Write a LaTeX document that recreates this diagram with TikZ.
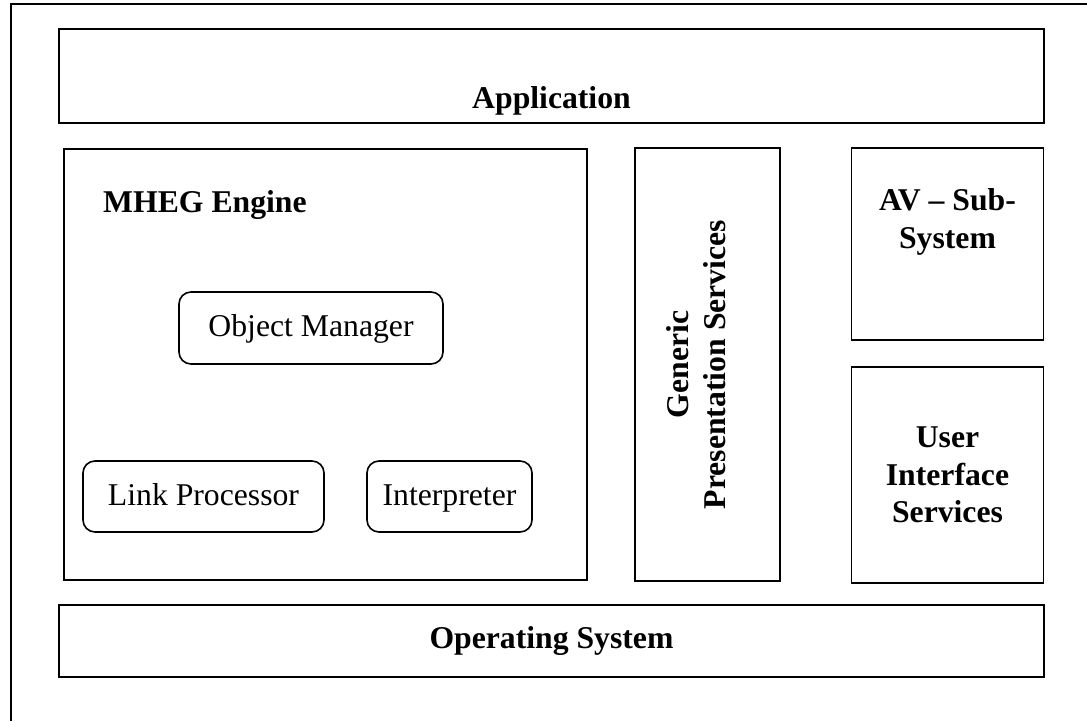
\documentclass[tikz,border=0pt]{standalone}
\usepackage{fontspec}
\setmainfont{Liberation Serif}
\newcommand\bigfont{\fontsize{31.7}{37.5}\selectfont}
\begin{document}
\begin{tikzpicture}[x=1pt,y=-1pt,
  box/.style={draw, line width=1.6pt, inner sep=0pt, outer sep=0pt},
  rbox/.style={box, rounded corners=12pt},
  lbl/.style={inner sep=0pt, font=\bigfont\bfseries, align=center},
  txt/.style={inner sep=0pt, font=\bigfont, align=center, text height=24pt, text depth=7pt}]
\useasboundingbox (0,0) rectangle (1087,721);
% outer frame (left and top only visible)
\draw[line width=1.3pt] (11,721) -- (11,4) -- (1087,4);
% boxes
\node[box, minimum width=985pt, minimum height=94pt] (app) at (551.5,76) {};
\node[lbl, anchor=base] (applbl) at (551.5,108) {Application};
\node[box, minimum width=523pt, minimum height=431pt] (engine) at (325.5,364.5) {};
\node[lbl, anchor=base west] (englbl) at (103,212) {MHEG Engine};
\node[rbox, minimum width=264pt, minimum height=72pt, txt] (om) at (311,328) {Object Manager};
\node[rbox, minimum width=241pt, minimum height=71pt, txt] (lp) at (203.5,496.5) {Link Processor};
\node[rbox, minimum width=165pt, minimum height=71pt, txt] (interp) at (449.5,496.5) {Interpreter};
\node[box, minimum width=145pt, minimum height=433pt] (gps) at (707.5,364.5) {};
\node[lbl, rotate=90] (gpslbl) at (696,364.5) {Generic\\Presentation Services};
\node[box, minimum width=192pt, minimum height=192pt] (av) at (947.5,244) {};
\node[lbl] (avlbl) at (947.5,222) {AV -- Sub-\\System};
\node[box, minimum width=192pt, minimum height=216pt] (ui) at (947.5,475) {};
\node[lbl] (uilbl) at (947.5,475) {User\\Interface\\Services};
\node[box, minimum width=985pt, minimum height=72pt, lbl, line width=1.6pt, draw] (os) at (551.5,641) {Operating System};
\end{tikzpicture}
\end{document}
